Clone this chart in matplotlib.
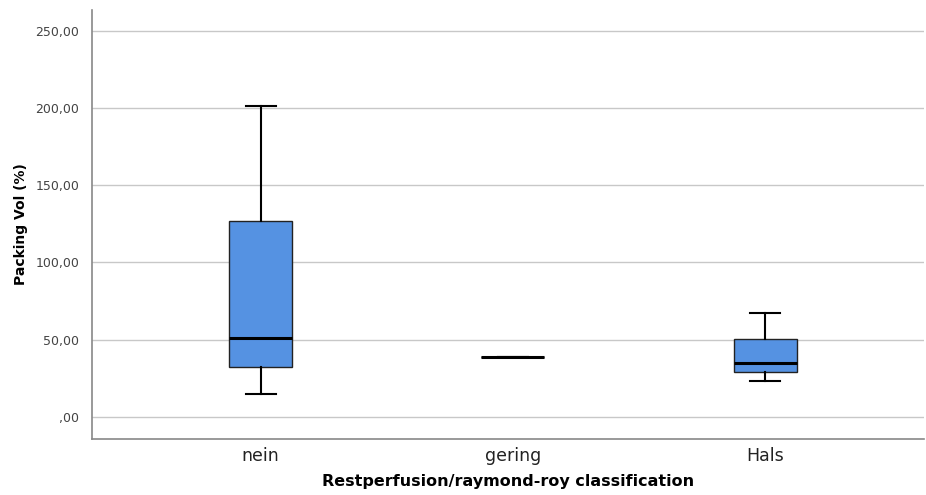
import matplotlib.pyplot as plt
from matplotlib.ticker import FuncFormatter

# Werte
kategorien = ["nein", "gering", "Hals"]
whisker_unten = [14.7, 38.5, 23.0]
q1 = [32.5, 38.5, 29.0]
median = [50.9, 38.5, 34.9]
q3 = [126.9, 38.5, 50.5]
whisker_oben = [201.7, 38.5, 67.1]

y_ticks = [0, 50, 100, 150, 200, 250]

stats = []
for i, name in enumerate(kategorien):
    stats.append({
        "label": name,
        "whislo": whisker_unten[i],
        "q1": q1[i],
        "med": median[i],
        "q3": q3[i],
        "whishi": whisker_oben[i],
        "fliers": [],
    })

fig = plt.figure(figsize=(9.26, 4.95), dpi=100)
ax = fig.add_axes([0.099, 0.113, 0.899, 0.867])

ax.bxp(stats, positions=range(len(kategorien)), widths=0.25, patch_artist=True,
       showfliers=False,
       boxprops=dict(facecolor="#5592e2", edgecolor="#222222", linewidth=1.0),
       medianprops=dict(color="black", linewidth=2.2),
       whiskerprops=dict(color="black", linewidth=1.5),
       capprops=dict(color="black", linewidth=1.5),
       capwidths=0.12)

ax.set_xlim(-0.67, 2.63)
ax.set_ylim(-14.5, 263.8)
ax.set_yticks(y_ticks)

def komma(v, pos):
    if v == 0:
        return ",00"
    return f"{v:.2f}".replace(".", ",")

ax.yaxis.set_major_formatter(FuncFormatter(komma))
ax.set_xticks(range(len(kategorien)))
ax.set_xticklabels(kategorien)

ax.grid(axis="y", color="#c8c8c8", linewidth=1.0)
ax.set_axisbelow(True)
for s in ["top", "right"]:
    ax.spines[s].set_visible(False)
for s in ["left", "bottom"]:
    ax.spines[s].set_color("#888888")
    ax.spines[s].set_linewidth(1.2)

ax.tick_params(axis="y", length=0, pad=9, labelsize=9, labelcolor="#444444")
ax.tick_params(axis="x", length=0, pad=6, labelsize=12.5, labelcolor="#222222")

ax.set_ylabel("Packing Vol (%)", fontsize=10, fontweight="bold", labelpad=5)
ax.set_xlabel("Restperfusion/raymond-roy classification", fontsize=11.5,
              fontweight="bold", labelpad=6)

fig.savefig("out.png", dpi=100)
